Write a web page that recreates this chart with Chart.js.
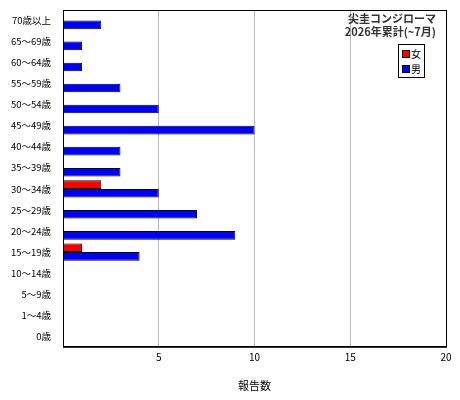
<!DOCTYPE html>
<html><head><meta charset="utf-8">
<script src="https://cdn.jsdelivr.net/npm/chart.js@4"></script>
<style>
body{margin:0;background:#fff;font-family:"Noto Sans CJK JP";}
#wrap{position:relative;width:460px;height:400px;}
.t{position:absolute;font-size:11px;color:#333;text-align:right;line-height:13px;font-weight:bold;}
#lg{position:absolute;left:398px;top:44px;width:27px;border:1px solid #000;background:#fff;font-size:10px;line-height:15px;padding:1px 0 1px 3px;box-sizing:border-box;}
#lg span{display:inline-block;width:6px;height:6px;border:1px solid #000;margin-right:1px;}
</style></head><body>
<div id="wrap"><canvas id="c" width="460" height="400"></canvas>
<div class="t" style="right:24px;top:12px;">尖圭コンジローマ<br>2026年累計(~7月)</div>
<div id="lg"><div><span style="background:#f00"></span>女</div><div><span style="background:#00f"></span>男</div></div>
</div>
<script>
const categories=["70歳以上","65～69歳","60～64歳","55～59歳","50～54歳","45～49歳","40～44歳","35～39歳","30～34歳","25～29歳","20～24歳","15～19歳","10～14歳","5～9歳","1～4歳","0歳"];
const female=[0,0,0,0,0,0,0,0,2,0,0,1,0,0,0,0];
const male=[2,1,1,3,5,10,3,3,5,7,9,4,0,0,0,0];
const xTicks=[5,10,15,20];
new Chart(document.getElementById('c'),{type:'bar',
data:{labels:categories,datasets:[
{label:'女',data:female,backgroundColor:'#f00',borderColor:'#000',borderWidth:1,borderSkipped:false},
{label:'男',data:male,backgroundColor:'#00f',borderColor:'#000',borderWidth:1,borderSkipped:false}]},
options:{indexAxis:'y',responsive:false,animation:false,
layout:{padding:{left:0,right:14,top:10,bottom:4}},
plugins:{legend:{display:false},tooltip:{enabled:false}},
datasets:{bar:{categoryPercentage:0.82,barPercentage:1}},
scales:{
x:{min:0,max:20,afterBuildTicks:s=>{s.ticks=xTicks.map(v=>({value:v}));},
 grid:{color:c=>c.tick.value===20?'rgba(0,0,0,0)':'#bbb',drawTicks:false},
 border:{color:'#000'},
 ticks:{color:'#000',font:{size:10,family:'Noto Sans CJK JP'},padding:4},
 title:{display:true,text:'報告数',color:'#000',font:{size:11,family:'Noto Sans CJK JP'},padding:{top:12}}},
y:{grid:{display:false},border:{color:'#000'},
 afterFit:s=>{s.width=63;},
 ticks:{color:'#000',font:{size:9.5,family:'Noto Sans CJK JP'},padding:4}}}},
plugins:[{id:'box',afterDraw(ch){const a=ch.chartArea,x=ch.ctx;x.save();x.strokeStyle='#000';x.lineWidth=1;x.strokeRect(a.left+0.5,a.top+0.5,a.right-a.left,a.bottom-a.top);x.restore();}}]
});
</script></body></html>
